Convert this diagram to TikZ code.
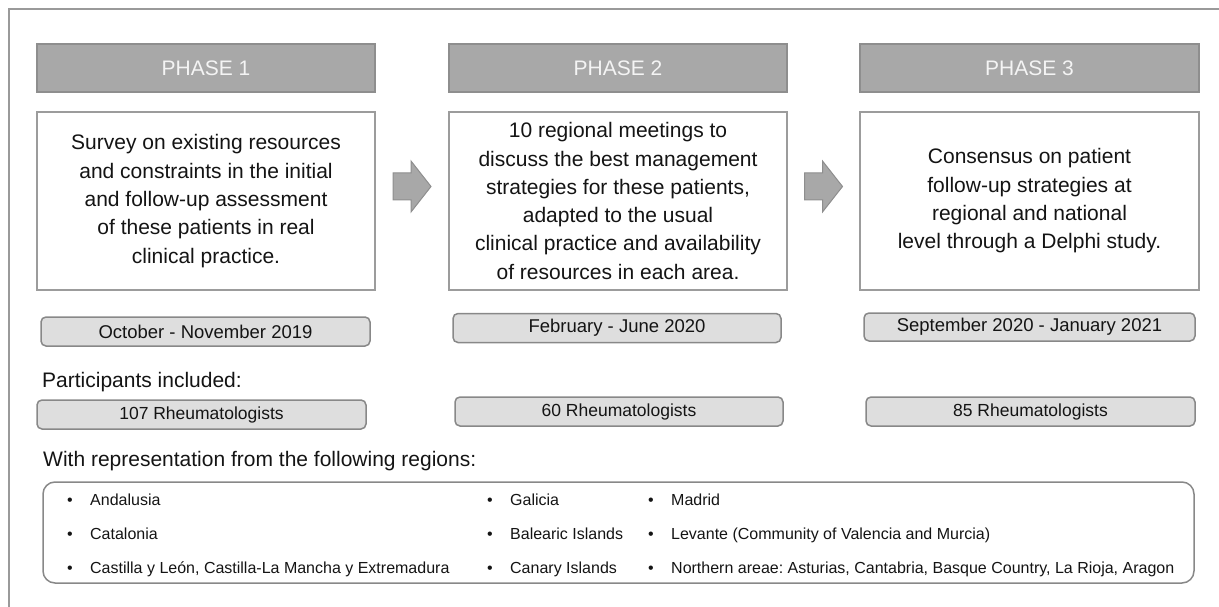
\documentclass[tikz,border=0pt]{standalone}
\usepackage{fontspec}
\setmainfont{Liberation Sans}
\usetikzlibrary{calc}
\frenchspacing

\definecolor{framegray}{HTML}{9A9A9A}
\definecolor{headfill}{HTML}{A8A8A8}
\definecolor{headline}{HTML}{8E8E8E}
\definecolor{headtext}{HTML}{F4F4F4}
\definecolor{boxline}{HTML}{9C9C9C}
\definecolor{pillfill}{HTML}{DEDEDE}
\definecolor{pillline}{HTML}{888888}
\definecolor{inktext}{HTML}{141414}

\tikzset{
    phasearrow/.pic={
        \draw[draw=headline, fill=headfill, line width=1pt]
            (-19,-13.5) -- (-1,-13.5) -- (-1,-25.5) -- (19,0)
            -- (-1,25.5) -- (-1,13.5) -- (-19,13.5) -- cycle;
    }
}

\begin{document}
\begin{tikzpicture}[x=1pt, y=-1pt, text=inktext,
    phasehead/.style={draw=headline, fill=headfill, line width=1.5pt,
        minimum width=338pt, minimum height=48pt, text=headtext,
        font=\fontsize{21}{25}\selectfont},
    phasebox/.style={draw=boxline, fill=white, line width=1.5pt,
        minimum width=338pt, minimum height=178pt, align=center,
        font=\fontsize{21}{28.3}\selectfont},
    datebox/.style={draw=pillline, fill=pillfill, rounded corners=5pt,
        line width=1.5pt, minimum height=29pt, inner sep=0pt,
        font=\fontsize{18.5}{22}\selectfont},
    countbox/.style={datebox, font=\fontsize{17.5}{21}\selectfont},
    caption/.style={anchor=base west, inner sep=0pt,
        font=\fontsize{21}{25}\selectfont},
    regitem/.style={anchor=base west, inner sep=0pt,
        font=\fontsize{16}{19}\selectfont}]

    \useasboundingbox (0,0) rectangle (1219,607);

    % 外框
    \draw[framegray, line width=1.5pt] (9,607) -- (9,9) -- (1219,9);

    % 阶段标题
    \node[phasehead] (head1) at (206,68) {PHASE 1};
    \node[phasehead] (head2) at (618,68) {PHASE 2};
    \node[phasehead, minimum width=339pt] (head3) at (1029.5,68) {PHASE 3};

    % 阶段内容
    \node[phasebox] (box1) at (206,201) {Survey on existing resources\\
        and constraints in the initial\\ and follow-up assessment\\
        of these patients in real\\ clinical practice.};
    \node[phasebox] (box2) at (618,201) {10 regional meetings to\\
        discuss the best management\\ strategies for these patients,\\
        adapted to the usual\\ clinical practice and availability\\
        of resources in each area.};
    \node[phasebox, minimum width=339pt] (box3) at (1029.5,201) {Consensus on patient\\
        follow-up strategies at\\ regional and national\\
        level through a Delphi study.};

    % 箭头
    \pic at ($(box1.east)!0.5!(box2.west)+(0,-14.5)$) {phasearrow};
    \pic at ($(box2.east)!0.5!(box3.west)+(0,-14.5)$) {phasearrow};

    % 时间
    \node[datebox, minimum width=329pt] (date1) at (205.5,331.5) {October - November 2019};
    \node[datebox, minimum width=328pt] (date2) at (617,328) {February - June 2020};
    \node[datebox, minimum width=331pt, minimum height=28pt] (date3) at (1029.5,327) {September 2020 - January 2021};

    % 参与者
    \node[caption] (partlabel) at (42,387.5) {Participants included:};
    \node[countbox, minimum width=329pt] (count1) at (201.5,414.5) {107 Rheumatologists};
    \node[countbox, minimum width=328pt] (count2) at (619,411.5) {60 Rheumatologists};
    \node[countbox, minimum width=329pt] (count3) at (1030.5,411.5) {85 Rheumatologists};

    % 地区
    \node[caption] (reglabel) at (43,466.5) {With representation from the following regions:};
    \node[draw=pillline, line width=1.5pt, rounded corners=12pt,
        minimum width=1151pt, minimum height=101pt] (regions) at (618.5,532.5) {};

    \foreach \place [count=\i] in {Andalusia, Catalonia,
            {Castilla y León, Castilla-La Mancha y Extremadura}}
        \node[regitem] at (67,{471+34*\i}) {\textbullet\hspace{17.4pt}\place};
    \foreach \place [count=\i] in {Galicia, Balearic Islands, Canary Islands}
        \node[regitem] at (487,{471+34*\i}) {\textbullet\hspace{17.4pt}\place};
    \foreach \place [count=\i] in {Madrid,
            Levante (Community of Valencia and Murcia),
            {Northern areae: Asturias, Cantabria, Basque Country, La Rioja, Aragon}}
        \node[regitem] at (648,{471+34*\i}) {\textbullet\hspace{17.4pt}\place};
\end{tikzpicture}
\end{document}
